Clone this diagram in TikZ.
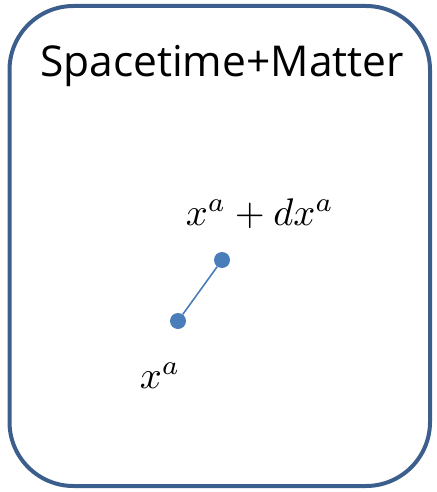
\documentclass[tikz,border=0pt]{standalone}
\usepackage{fontspec}
\setsansfont{Open Sans}
\definecolor{frameblue}{RGB}{60,94,140}
\definecolor{dotblue}{RGB}{74,126,187}
\begin{document}
\begin{tikzpicture}[x=1pt,y=-1pt,
  frame/.style={draw=frameblue,line width=4pt,rounded corners=64pt},
  dot/.style={circle,fill=dotblue,minimum size=16pt,inner sep=0pt},
  mathlabel/.style={font=\fontsize{10}{12}\selectfont,inner sep=0pt,scale=3.85},
  title/.style={font=\sffamily\fontsize{42.5}{50}\selectfont,inner sep=0pt}]
\useasboundingbox (0,0) rectangle (436,492);
\draw[frame] (9.5,6) rectangle (430,486);
\node[title,anchor=base] (t) at (222,77) {Spacetime+Matter};
\node[dot] (p) at (178,321) {};
\node[dot] (q) at (222,260) {};
\draw[dotblue,line width=1.6pt] (p) -- (q);
\node[mathlabel,anchor=base west] (lq) at (185,225) {$x^a+dx^a$};
\node[mathlabel,anchor=base west] (lp) at (139,388) {$x^a$};
\end{tikzpicture}
\end{document}
